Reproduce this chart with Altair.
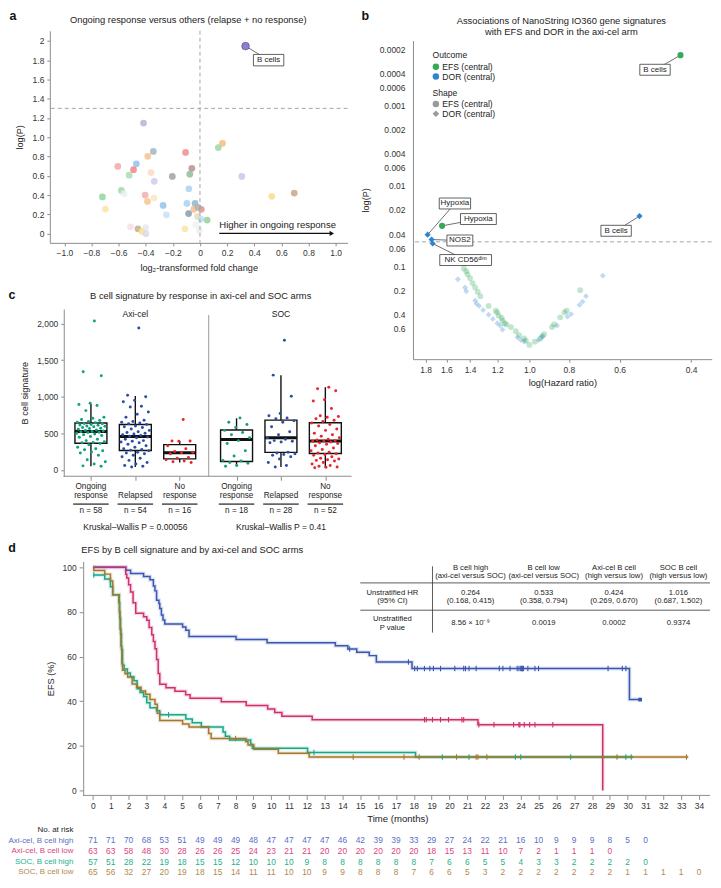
import altair as alt
import pandas as pd

FONT = "Liberation Sans"
INK = "#222222"
GRAY = "#8c8c8c"
TSZ = 9.4  # panel title size

# ---------------- Panel a : volcano ----------------
a_fold = [-0.416, -0.344, -0.385, -0.106, 0.166, 0.135, -0.606, -0.469, -0.490, -0.522,
          -0.361, -0.337, -0.204, -0.060, -0.075, 0.308, -0.082, -0.579, -0.560, -0.719,
          -0.404, -0.339, -0.387, -0.697, -0.272, -0.248, -0.096, -0.036, -0.046, 0.010,
          -0.014, -0.084, -0.019, 0.007, 0.053, -0.031, -0.005, -0.111, 0.529, 0.695,
          -0.512, -0.457, -0.401, -0.428, -0.399]
a_logp = [1.147, 0.853, 0.803, 0.843, 0.938, 0.894, 0.698, 0.725, 0.664, 0.607,
          0.634, 0.543, 0.594, 0.678, 0.617, 0.594, 0.465, 0.449, 0.415, 0.381,
          0.401, 0.371, 0.334, 0.256, 0.293, 0.196, 0.314, 0.314, 0.253, 0.253,
          0.273, 0.209, 0.179, 0.152, 0.142, 0.094, 0.034, 0.051, 0.388, 0.422,
          0.071, 0.051, 0.064, 0.024, 0.000]
a_fill = ["#b9aed6", "#9fb3bf", "#f6c08f", "#f08a8a", "#f6b978", "#9ad5a4", "#f5a3a3", "#8fc0ee", "#ef7f86", "#a8dcb0",
          "#fbd9c0", "#cfc7ec", "#9c9ca6", "#b48c8c", "#8fb89a", "#cbc3ee", "#a9d0f0", "#9fd8a8", "#e6f2ea", "#8fd49a",
          "#f4a9a9", "#fbe6c0", "#f7c28a", "#fbe2a0", "#8cc2ee", "#c5e0f6", "#a6cff2", "#8fb2cc", "#f6b98a", "#e08c8c",
          "#b0b0b0", "#7f9ab0", "#e8dcb5", "#b8dcf6", "#8fcf98", "#e8f4f0", "#eeeeee", "#fbe3a6", "#fbd98a", "#c9a27c",
          "#f8dde6", "#bfa98c", "#e4e8ef", "#fbe08a", "#dcd6ee"]
a_hl_name = ["B cells"]
a_hl_fold = [0.336]
a_hl_logp = [1.946]
a_lab_fold = [0.506]
a_lab_logp = [1.80]

# ---------------- Panel b : HR vs P ----------------
b_efs_hr = [1.45, 1.43, 1.42, 1.40, 1.38, 1.36, 1.34, 1.32, 1.26, 1.21, 1.20, 1.19, 1.17, 1.165, 1.15, 1.14,
            1.11, 1.08, 1.06, 1.03, 1.02, 1.00, 0.97, 0.94, 0.93, 0.92, 0.88, 0.87, 0.84, 0.82, 0.81, 0.75]
b_efs_p = [0.107, 0.116, 0.127, 0.142, 0.163, 0.185, 0.21, 0.237, 0.314, 0.36, 0.378, 0.415, 0.443, 0.478, 0.514, 0.533,
           0.575, 0.649, 0.726, 0.796, 0.851, 0.96, 0.875, 0.796, 0.746, 0.706, 0.575, 0.533, 0.435, 0.378, 0.36, 0.20]
b_dor_hr = [1.50, 1.44, 1.43, 1.36, 1.35, 1.33, 1.30, 1.26, 1.23, 1.20, 1.18, 1.165, 1.07, 1.05, 1.03, 0.95,
            0.93, 0.855, 0.806, 0.79, 0.753, 0.74, 0.726, 0.66]
b_dor_p = [0.146, 0.185, 0.206, 0.268, 0.294, 0.314, 0.354, 0.404, 0.456, 0.514, 0.55, 0.62, 0.775, 0.836, 0.87, 0.836,
           0.76, 0.55, 0.427, 0.396, 0.305, 0.278, 0.237, 0.132]
b_hl_name = ["B cells", "B cells", "Hypoxia", "Hypoxia", "NOS2", "NK CD56ᵈⁱᵐ"]
b_hl_outcome = ["EFS", "DOR", "EFS", "DOR", "DOR", "DOR"]
b_hl_hr = [0.425, 0.536, 1.64, 1.78, 1.74, 1.73]
b_hl_p = [0.000237, 0.0239, 0.0316, 0.0407, 0.0468, 0.0524]
b_lab_hr = [0.491, 0.612, 1.335, 1.525, 1.483, 1.435]
b_lab_p = [0.00036, 0.0364, 0.026, 0.01665, 0.0481, 0.0842]
b_box_w = [30.5, 30.5, 36, 31.5, 26, 52]
b_outcomes = ["EFS", "DOR"]
b_out_col = ["#36a85a", "#2e84cf"]
b_out_shape = ["circle", "diamond"]

# ---------------- Panel c : box plots ----------------
c_pos = [0, 1, 2, 3.28, 4.28, 5.28]
c_resp_col = ["#13a07c", "#2c4ea3", "#e8262b", "#13a07c", "#2c4ea3", "#e8262b"]
c_ax_ongoing = [2035, 1340, 1285, 910, 895, 880, 810, 720, 705, 690, 675, 660, 650, 645, 635, 630, 620, 615, 610, 600,
                595, 590, 580, 570, 565, 555, 545, 540, 530, 525, 520, 515, 510, 500, 490, 480, 470, 455, 445, 420,
                400, 385, 375, 370, 360, 345, 310, 290, 275, 260, 245, 230, 200, 140, 110, 80, 55, 50]
c_ax_relapsed = [1940, 1020, 1000, 950, 930, 870, 860, 790, 760, 720, 680, 660, 650, 640, 630, 620, 600, 590, 580, 560,
                 540, 520, 510, 500, 490, 480, 470, 460, 450, 440, 420, 400, 390, 380, 370, 350, 330, 310, 290, 280,
                 270, 260, 240, 230, 220, 200, 180, 160, 130, 100, 80, 60, 50, 40]
c_ax_noresp = [690, 395, 395, 390, 330, 290, 250, 240, 235, 220, 170, 160, 140, 120, 110, 100]
c_soc_ongoing = [710, 650, 620, 580, 540, 510, 480, 440, 400, 360, 260, 190, 130, 120, 100, 90, 60, 50]
c_soc_relapsed = [1770, 1295, 1005, 770, 740, 710, 700, 670, 650, 590, 520, 480, 440, 420, 400, 390, 380, 370, 240, 230,
                  220, 210, 200, 180, 150, 100, 60, 40]
c_soc_noresp = [1130, 1110, 1080, 960, 940, 840, 740, 730, 720, 700, 680, 660, 640, 620, 600, 560, 540, 500, 480, 460,
                440, 420, 410, 400, 395, 390, 380, 370, 360, 350, 330, 300, 280, 260, 240, 230, 220, 210, 200, 180,
                160, 150, 140, 130, 120, 100, 80, 60, 50, 40, 35, 30]
c_q1 = [365, 265, 150, 115, 240, 225]
c_med = [525, 455, 235, 415, 440, 395]
c_q3 = [640, 620, 345, 545, 680, 645]
c_lo = [50, 40, 100, 50, 40, 30]
c_hi = [900, 1010, 390, 705, 1295, 1130]
c_line1 = ["Ongoing", "", "No", "Ongoing", "", "No"]
c_line2 = ["response", "Relapsed", "response", "response", "Relapsed", "response"]
c_n = ["n = 58", "n = 54", "n = 16", "n = 18", "n = 28", "n = 52"]
c_arms = ["Axi-cel", "SOC"]
c_arm_pos = [1, 4.28]
c_kw = ["Kruskal–Wallis P = 0.00056", "Kruskal–Wallis P = 0.41"]

# ---------------- Panel d : Kaplan-Meier ----------------
d_names = ["Axi-cel, B cell high", "Axi-cel, B cell low", "SOC, B cell high", "SOC, B cell low"]
d_line_col = ["#3b55b3", "#d0306e", "#17a78a", "#a8782a"]
d_text_col = ["#5a6fc4", "#d9457f", "#26b08e", "#b08a4e"]
km_t = [
    [0, 1.84, 2.11, 2.84, 3.2, 3.39, 3.48, 3.57, 3.7, 3.75, 3.84, 3.93, 4.03, 5.03, 5.21, 5.39, 8.03, 9.77,
     13.6, 14.3, 14.8, 15.5, 15.9, 17.9, 30.1, 30.7],
    [0, 1.84, 1.9, 2.0, 2.11, 2.25, 2.4, 2.84, 3.02, 3.15, 3.3, 3.39, 3.48, 3.57, 3.66, 3.75, 4.1, 4.6, 5.2,
     5.45, 7.2, 8.6, 9.8, 10.2, 10.6, 12.3, 21.6, 28.6],
    [0, 0.66, 0.98, 1.11, 1.45, 1.5, 1.55, 1.6, 1.66, 1.75, 1.93, 2.1, 2.3, 2.48, 2.65, 2.84, 3.02, 3.2, 3.57,
     3.75, 5.21, 5.57, 6.08, 7.3, 7.43, 7.67, 8.85, 8.94, 12.04, 18.1, 30.3],
    [0, 0.05, 0.66, 0.98, 1.11, 1.48, 1.52, 1.57, 1.62, 1.66, 1.8, 1.95, 2.2, 2.45, 2.7, 2.95, 3.2, 3.48, 3.61,
     3.75, 5.03, 5.39, 6.49, 6.63, 8.58, 8.7, 9.03, 10.4, 12.13, 33.4],
]
km_s = [
    [100, 98.6, 97.2, 95.8, 94.4, 91.6, 89.4, 85.2, 83.7, 81.5, 78.6, 76.4, 74.6, 73.2, 71.8, 69.0, 67.6, 66.2,
     64.8, 63.4, 61.9, 60.4, 57.5, 54.6, 40.7, 40.7],
    [100, 96.8, 95.2, 92.1, 88.9, 84.1, 79.4, 77.8, 76.2, 73.0, 69.8, 66.7, 63.5, 58.7, 52.4, 47.6, 46.0, 44.4,
     42.9, 41.3, 39.7, 38.1, 36.5, 34.9, 33.3, 31.7, 29.4, 0],
    [96.5, 94.7, 91.2, 87.7, 84.2, 77.2, 70.2, 63.2, 56.1, 54.4, 52.6, 50.9, 49.1, 45.6, 43.9, 42.1, 39.3, 37.1,
     35.7, 33.9, 32.0, 30.3, 28.4, 26.2, 24.3, 22.6, 20.7, 18.9, 17.0, 15.0, 15.0],
    [100, 98.5, 96.9, 93.8, 87.7, 80.0, 72.3, 64.6, 56.9, 53.8, 52.3, 50.8, 47.7, 46.2, 44.6, 43.1, 40.8, 38.6,
     34.6, 31.3, 29.8, 28.4, 25.5, 23.3, 21.8, 20.4, 18.5, 16.7, 15.0, 15.0],
]
km_censor = [
    [14.4, 17.7, 18.05, 18.2, 18.6, 18.9, 19.1, 19.5, 20.3, 20.8, 20.9, 21.1, 21.5, 22.8, 23.0, 23.4, 23.8,
     23.9, 24.0, 24.05, 24.1, 24.15, 24.4, 24.8, 25.0, 28.9, 29.7, 29.9],
    [18.6, 18.7, 19.05, 19.5, 19.95, 20.7, 20.8, 21.65, 22.5, 23.6, 23.9, 23.95, 24.2, 24.5, 24.8, 25.8],
    [0.05, 4.24, 12.4, 19.6, 21.1, 23.7, 24.0, 26.8, 29.9, 30.2],
    [8.0, 14.6, 17.45, 18.3, 20.4, 21.5, 21.6, 22.1, 29.4, 33.3],
]
km_end_t = [30.7]
km_end_s = [40.7]
risk = [
    [71, 71, 70, 68, 53, 51, 49, 49, 49, 48, 47, 47, 47, 47, 46, 42, 39, 39, 33, 29, 27, 24, 22, 21, 16, 10, 9, 9, 9, 8, 5, 0],
    [63, 63, 58, 48, 30, 28, 26, 26, 25, 24, 23, 21, 21, 20, 20, 20, 20, 20, 20, 18, 15, 13, 11, 10, 7, 2, 1, 1, 1, 0],
    [57, 51, 28, 22, 19, 18, 15, 15, 12, 10, 10, 10, 9, 8, 8, 8, 8, 8, 8, 7, 6, 6, 5, 5, 4, 3, 3, 2, 2, 2, 2, 0],
    [65, 56, 32, 27, 20, 19, 18, 15, 14, 11, 11, 10, 10, 9, 9, 8, 8, 8, 7, 6, 6, 5, 3, 2, 2, 2, 2, 2, 2, 2, 1, 1, 1, 1, 0],
]
tab_cols = [("B cell high", "(axi-cel versus SOC)"), ("B cell low", "(axi-cel versus SOC)"),
            ("Axi-cel B cell", "(high versus low)"), ("SOC B cell", "(high versus low)")]
tab_rows = [("Unstratified HR", "(95% CI)"), ("Unstratified", "P value")]
tab_hr = [("0.264", "(0.168, 0.415)"), ("0.533", "(0.358, 0.794)"), ("0.424", "(0.269, 0.670)"), ("1.016", "(0.687, 1.502)")]
tab_p = ["8.56 × 10⁻⁹", "0.0019", "0.0002", "0.9374"]


# ---------------- helpers ----------------
DUMMY = pd.DataFrame({"z": [0]})


def tl(text, px, py, size=9.0, weight="normal", align="center", color=INK, baseline="middle"):
    return alt.Chart(pd.DataFrame({"t": [text]})).mark_text(
        font=FONT, fontSize=size, fontWeight=weight, align=align, baseline=baseline, color=color
    ).encode(x=alt.value(px), y=alt.value(py), text="t:N")


def glyph(px, py, shape, color, size=42):
    return alt.Chart(DUMMY).mark_point(filled=True, shape=shape, color=color, size=size, opacity=1).encode(
        x=alt.value(px), y=alt.value(py))


def axis(**kw):
    base = dict(labelFont=FONT, titleFont=FONT, labelFontSize=8.5, titleFontSize=9.2, labelColor="#333333",
                titleColor=INK, domainColor=GRAY, tickColor=GRAY, grid=False, titleFontWeight="normal",
                tickSize=3, labelPadding=3)
    base.update(kw)
    return alt.Axis(**base)


def box_path(w, h):
    r = h / w
    return f"M-1,-{r:.4f}L1,-{r:.4f}L1,{r:.4f}L-1,{r:.4f}Z"


def enc_factory(scale, ax):
    def f(field, ch):
        if ch == "x":
            return alt.X(field, scale=scale, axis=ax)
        return alt.Y(field, scale=scale, axis=ax)
    return f


# ================= Panel A =================
WA, HA = 299, 213
sxA = alt.Scale(domain=[-1.107, 1.088], nice=False, zero=False)
syA = alt.Scale(domain=[-0.095, 2.105], nice=False, zero=False)
ax_ax = axis(values=[-1.0, -0.8, -0.6, -0.4, -0.2, 0, 0.2, 0.4, 0.6, 0.8, 1.0],
             labelExpr="datum.value == 0 ? '0' : format(datum.value, '.1f')",
             title="log₂-transformed fold change", titlePadding=6)
ax_ay = axis(values=[0, 0.2, 0.4, 0.6, 0.8, 1.0, 1.2, 1.4, 1.6, 1.8, 2.0],
             labelExpr="datum.value == 0 ? '0' : (datum.value == 2 ? '2' : format(datum.value, '.1f'))",
             title="log(P)", titlePadding=8)
XA = enc_factory(sxA, ax_ax)
YA = enc_factory(syA, ax_ay)

dfA = pd.DataFrame({"fc": a_fold, "lp": a_logp, "fill": a_fill})
a_pts = alt.Chart(dfA).mark_circle(size=46, opacity=0.82).encode(
    x=XA("fc:Q", "x"), y=YA("lp:Q", "y"), color=alt.Color("fill:N", scale=None))
a_v = alt.Chart(pd.DataFrame({"fc": [0.0]})).mark_rule(color="#9a9a9a", strokeDash=[4, 3], strokeWidth=0.9).encode(
    x=XA("fc:Q", "x"))
a_h = alt.Chart(pd.DataFrame({"lp": [1.3]})).mark_rule(color="#9a9a9a", strokeDash=[4, 3], strokeWidth=0.9).encode(
    y=YA("lp:Q", "y"))
dfAh = pd.DataFrame({"fc": a_hl_fold, "lp": a_hl_logp, "lx": a_lab_fold, "ly": a_lab_logp, "name": a_hl_name,
                     "shp": [box_path(30.5, 11.5)], "sz": [30.5 ** 2]})
a_lead = alt.Chart(dfAh).mark_rule(color="#333333", strokeWidth=0.7).encode(
    x=XA("fc:Q", "x"), y=YA("lp:Q", "y"), x2="lx:Q", y2="ly:Q")
a_hpt = alt.Chart(dfAh).mark_circle(size=60, opacity=1, color="#8b7fd1", stroke="#4d428f", strokeWidth=0.6).encode(
    x=XA("fc:Q", "x"), y=YA("lp:Q", "y"))
a_box = alt.Chart(dfAh).mark_point(filled=True, fill="white", stroke="#3a3a3a", strokeWidth=0.8, opacity=1).encode(
    x=XA("lx:Q", "x"), y=YA("ly:Q", "y"),
    shape=alt.Shape("shp:N", scale=None), size=alt.Size("sz:Q", scale=None))
a_lab = alt.Chart(dfAh).mark_text(font=FONT, fontSize=8, color=INK).encode(
    x=XA("lx:Q", "x"), y=YA("ly:Q", "y"), text="name:N")
dfArr = pd.DataFrame({"x1": [0.142], "x2": [0.972], "y": [0.003], "ty": [0.092], "t": ["Higher in ongoing response"]})
a_arr = alt.Chart(dfArr).mark_rule(color="#111111", strokeWidth=1.3).encode(
    x=XA("x1:Q", "x"), x2="x2:Q", y=YA("y:Q", "y"))
a_head = alt.Chart(dfArr).mark_point(shape="triangle-right", filled=True, color="#111111", size=26, opacity=1).encode(
    x=XA("x2:Q", "x"), y=YA("y:Q", "y"))
a_atxt = alt.Chart(dfArr).mark_text(font=FONT, fontSize=9.6, align="left", color=INK).encode(
    x=XA("x1:Q", "x"), y=YA("ty:Q", "y"), text="t:N")
A = alt.layer(
    a_pts, a_v, a_h, a_lead, a_hpt, a_box, a_lab, a_arr, a_head, a_atxt,
    tl("Ongoing response versus others (relapse + no response)", 139, -10.8, size=TSZ),
    tl("a", -37, -14.7, size=12.5, weight="bold", color="#111111"),
).properties(width=WA, height=HA)

# ================= Panel B =================
WB, HB = 300, 320
sxB = alt.Scale(type="log", domain=[0.3561, 1.934], reverse=True, nice=False, zero=False)
syB = alt.Scale(type="log", domain=[1.556e-4, 1.444], reverse=True, nice=False, zero=False)
ax_bx = axis(values=[0.4, 0.6, 0.8, 1.0, 1.2, 1.4, 1.6, 1.8], format=".1f", title="log(Hazard ratio)", titlePadding=5)
ax_by = axis(values=[0.0002, 0.0004, 0.0006, 0.001, 0.002, 0.004, 0.006, 0.01, 0.02, 0.04, 0.06, 0.1, 0.2, 0.4, 0.6],
             format="~g", title="log(P)", titlePadding=9, tickSize=0, labelPadding=8)
XB = enc_factory(sxB, ax_bx)
YB = enc_factory(syB, ax_by)

out_f = ["EFS"] * len(b_efs_hr) + ["DOR"] * len(b_dor_hr)
dfBf = pd.DataFrame({"hr": b_efs_hr + b_dor_hr, "p": b_efs_p + b_dor_p,
                     "col": [b_out_col[b_outcomes.index(o)] for o in out_f],
                     "shape": [b_out_shape[b_outcomes.index(o)] for o in out_f]})
b_faded = alt.Chart(dfBf).mark_point(filled=True, opacity=0.3, size=34).encode(
    x=XB("hr:Q", "x"), y=YB("p:Q", "y"), color=alt.Color("col:N", scale=None),
    shape=alt.Shape("shape:N", scale=None))
dfBh = pd.DataFrame({"hr": b_hl_hr, "p": b_hl_p,
                     "col": [b_out_col[b_outcomes.index(o)] for o in b_hl_outcome],
                     "shape": [b_out_shape[b_outcomes.index(o)] for o in b_hl_outcome],
                     "lx": b_lab_hr, "ly": b_lab_p, "name": b_hl_name,
                     "shp": [box_path(w, 11) for w in b_box_w], "sz": [w ** 2 for w in b_box_w]})
b_sig = alt.Chart(pd.DataFrame({"p": [0.05]})).mark_rule(color="#9a9a9a", strokeDash=[4, 3], strokeWidth=0.9).encode(
    y=YB("p:Q", "y"))
b_lead = alt.Chart(dfBh).mark_rule(color="#333333", strokeWidth=0.7).encode(
    x=XB("hr:Q", "x"), y=YB("p:Q", "y"), x2="lx:Q", y2="ly:Q")
b_hpt = alt.Chart(dfBh).mark_point(filled=True, opacity=1, size=38).encode(
    x=XB("hr:Q", "x"), y=YB("p:Q", "y"), color=alt.Color("col:N", scale=None),
    shape=alt.Shape("shape:N", scale=None))
b_box = alt.Chart(dfBh).mark_point(filled=True, fill="white", stroke="#3a3a3a", strokeWidth=0.8, opacity=1).encode(
    x=XB("lx:Q", "x"), y=YB("ly:Q", "y"),
    shape=alt.Shape("shp:N", scale=None), size=alt.Size("sz:Q", scale=None))
b_lab = alt.Chart(dfBh).mark_text(font=FONT, fontSize=8, color=INK).encode(
    x=XB("lx:Q", "x"), y=YB("ly:Q", "y"), text="name:N")
b_legend = [
    tl("Outcome", 19.6, 14.7, size=8.6, align="left"),
    glyph(23, 26.4, "circle", b_out_col[0]), tl("EFS (central)", 29.5, 26.4, size=8.6, align="left"),
    glyph(23, 36.2, "circle", b_out_col[1]), tl("DOR (central)", 29.5, 36.2, size=8.6, align="left"),
    tl("Shape", 19.6, 52.9, size=8.6, align="left"),
    glyph(23, 63.7, "circle", "#9a9a9a"), tl("EFS (central)", 29.5, 63.7, size=8.6, align="left"),
    glyph(23, 73.5, "diamond", "#9a9a9a"), tl("DOR (central)", 29.5, 73.5, size=8.6, align="left"),
]
B = alt.layer(
    b_faded, b_sig, b_lead, b_hpt, b_box, b_lab, *b_legend,
    tl("Associations of NanoString IO360 gene signatures", 149, -19.6, size=TSZ),
    tl("with EFS and DOR in the axi-cel arm", 149, -8.9, size=TSZ),
    tl("b", -48, -24.5, size=12.5, weight="bold", color="#111111"),
).properties(width=WB, height=HB)

spacer = alt.Chart(DUMMY).mark_point(opacity=0, size=1).encode(
    x=alt.value(0), y=alt.value(0)).properties(width=WB, height=1)

# ================= Panel C =================
WC, HC = 303, 168
CSZ = 8.2
sxC = alt.Scale(domain=[-0.926, 5.87], nice=False, zero=False)
syC = alt.Scale(domain=[-87, 2199], nice=False, zero=False)
ax_cx = axis(values=c_pos, labels=False, domain=False, tickSize=4, title="")
ax_cy = axis(values=[0, 500, 1000, 1500, 2000], format=",.0f", title="B cell signature", offset=-14, titlePadding=7)
XC = enc_factory(sxC, ax_cx)
YC = enc_factory(syC, ax_cy)
c_vals = [c_ax_ongoing, c_ax_relapsed, c_ax_noresp, c_soc_ongoing, c_soc_relapsed, c_soc_noresp]
rows = []
for gi, vals in enumerate(c_vals):
    for val in vals:
        rows.append({"g": gi, "v": c_pos[gi], "val": val, "col": c_resp_col[gi]})
dfCp = pd.DataFrame(rows)
dfCb = pd.DataFrame({"v": c_pos, "q1": c_q1, "med": c_med, "q3": c_q3, "lo": c_lo, "hi": c_hi})

c_wlo = alt.Chart(dfCb).mark_rule(color="#111111", strokeWidth=1.4).encode(
    x=XC("v:Q", "x"), y=YC("lo:Q", "y"), y2="q1:Q")
c_whi = alt.Chart(dfCb).mark_rule(color="#111111", strokeWidth=1.4).encode(
    x=XC("v:Q", "x"), y=YC("q3:Q", "y"), y2="hi:Q")
c_box = alt.Chart(dfCb).transform_calculate(xl="datum.v - 0.36", xr="datum.v + 0.36").mark_rect(
    fill="transparent", stroke="#111111", strokeWidth=1.4).encode(
    x=XC("xl:Q", "x"), x2="xr:Q", y=YC("q1:Q", "y"), y2="q3:Q")
c_pts = alt.Chart(dfCp).transform_window(idx="row_number()", groupby=["g"]).transform_calculate(
    xj="datum.v + ((datum.idx * 0.618034) % 1 - 0.5) * 0.66").mark_circle(size=9, opacity=1).encode(
    x=XC("xj:Q", "x"), y=YC("val:Q", "y"), color=alt.Color("col:N", scale=None))
c_med_l = alt.Chart(dfCb).transform_calculate(xl="datum.v - 0.36", xr="datum.v + 0.36").mark_rule(
    color="#111111", strokeWidth=3).encode(
    x=XC("xl:Q", "x"), x2="xr:Q", y=YC("med:Q", "y"))
c_div = alt.Chart(pd.DataFrame({"v": [2.653]})).mark_rule(color="#9a9a9a", strokeWidth=1).encode(
    x=XC("v:Q", "x"), y=alt.value(6), y2=alt.value(HC))
c_base = alt.Chart(pd.DataFrame({"x1": [-0.615], "x2": [5.87]})).mark_rule(color=GRAY, strokeWidth=1).encode(
    x=XC("x1:Q", "x"), x2="x2:Q", y=alt.value(HC))
dfCl = pd.DataFrame({"v": c_pos, "l1": c_line1, "l2": c_line2, "n": c_n})
c_l1 = alt.Chart(dfCl).mark_text(font=FONT, fontSize=CSZ, color=INK).encode(
    x=XC("v:Q", "x"), y=alt.value(178.9), text="l1:N")
c_l2 = alt.Chart(dfCl).mark_text(font=FONT, fontSize=CSZ, color=INK).encode(
    x=XC("v:Q", "x"), y=alt.value(187.5), text="l2:N")
c_ul = alt.Chart(dfCl).transform_calculate(xl="datum.v - 0.4", xr="datum.v + 0.4").mark_rule(
    color="#666666", strokeWidth=1.8).encode(
    x=XC("xl:Q", "x"), x2="xr:Q", y=alt.value(196))
c_nl = alt.Chart(dfCl).mark_text(font=FONT, fontSize=CSZ, color=INK).encode(
    x=XC("v:Q", "x"), y=alt.value(202.5), text="n:N")
dfCa = pd.DataFrame({"v": c_arm_pos, "arm": c_arms, "kw": c_kw})
c_arm = alt.Chart(dfCa).mark_text(font=FONT, fontSize=8.6, color=INK).encode(
    x=XC("v:Q", "x"), y=alt.value(4.8), text="arm:N")
c_kwt = alt.Chart(dfCa).mark_text(font=FONT, fontSize=8.6, color=INK).encode(
    x=XC("v:Q", "x"), y=alt.value(219.2), text="kw:N")
C = alt.layer(
    c_wlo, c_whi, c_box, c_med_l, c_pts, c_div, c_base, c_l1, c_l2, c_ul, c_nl, c_arm, c_kwt,
    tl("B cell signature by response in axi-cel and SOC arms", 151.5, -13.2, size=TSZ),
    tl("c", -38, -13.8, size=12.5, weight="bold", color="#111111"),
).properties(width=WC, height=HC)

# ================= Panel D =================
# plot origin shares x with panel a; y axis drawn further right
WD, HD = 663, 235
sxD = alt.Scale(domain=[-2.42, 34.62], nice=False, zero=False)
syD = alt.Scale(domain=[-2.2, 102.6], nice=False, zero=False)
ax_dx = axis(values=list(range(0, 35)), domain=False, tickSize=4, labelPadding=2, title="Time (months)",
             titleX=349, titleFontSize=9.6, titlePadding=4, labelFontSize=8.5)
ax_dy = axis(values=[0, 20, 40, 60, 80, 100], offset=-33.5, tickSize=4, labelPadding=3, title="EFS (%)",
             titlePadding=7)
XD = enc_factory(sxD, ax_dx)
YD = enc_factory(syD, ax_dy)
krows, crows = [], []
for gi in range(4):
    for i, (t, s) in enumerate(zip(km_t[gi], km_s[gi])):
        krows.append({"col": d_line_col[gi], "i": i, "t": t, "s": s})
    for t in km_censor[gi]:
        lvl = km_s[gi][max(j for j, tt in enumerate(km_t[gi]) if tt <= t)]
        crows.append({"col": d_line_col[gi], "t": t, "s": lvl})
dfK = pd.DataFrame(krows)
dfC = pd.DataFrame(crows)
d_halo = alt.Chart(dfK).mark_line(interpolate="step-after", strokeWidth=4, opacity=0.16).encode(
    x=XD("t:Q", "x"), y=YD("s:Q", "y"), color=alt.Color("col:N", scale=None), order="i:Q")
d_lines = alt.Chart(dfK).mark_line(interpolate="step-after", strokeWidth=1.5).encode(
    x=XD("t:Q", "x"), y=YD("s:Q", "y"), color=alt.Color("col:N", scale=None), order="i:Q")
d_cens = alt.Chart(dfC).mark_point(shape="M0,-1L0,1", size=30, strokeWidth=1.1, opacity=1, filled=False).encode(
    x=XD("t:Q", "x"), y=YD("s:Q", "y"), color=alt.Color("col:N", scale=None))
d_end = alt.Chart(pd.DataFrame({"t": km_end_t, "s": km_end_s})).mark_square(size=14, color=d_line_col[0], opacity=1).encode(
    x=XD("t:Q", "x"), y=YD("s:Q", "y"))
d_base = alt.Chart(pd.DataFrame({"x1": [-0.55], "x2": [34.62]})).mark_rule(color=GRAY, strokeWidth=1).encode(
    x=XD("x1:Q", "x"), x2="x2:Q", y=alt.value(HD))

LX = 23.7
RSZ = 8.0
risk_layers = [tl("No. at risk", LX, 269.5, size=RSZ, align="right", color=INK)]
risk_y = [280.3, 291.0, 301.6, 312.0]
for gi in range(4):
    dfr = pd.DataFrame({"t": list(range(len(risk[gi]))), "n": risk[gi]})
    risk_layers.append(alt.Chart(dfr).mark_text(font=FONT, fontSize=8.4, color=d_text_col[gi]).encode(
        x=XD("t:Q", "x"), y=alt.value(risk_y[gi]), text="n:Q"))
    risk_layers.append(tl(d_names[gi], LX, risk_y[gi], size=RSZ, align="right", color=d_text_col[gi]))

TBS = 7.7
tab_x = [422.5, 496, 566.6, 631.3]
tab_layers = []
for ci in range(4):
    tab_layers.append(tl(tab_cols[ci][0], tab_x[ci], 7.0, size=TBS))
    tab_layers.append(tl(tab_cols[ci][1], tab_x[ci], 15.0, size=TBS))
    tab_layers.append(tl(tab_hr[ci][0], tab_x[ci], 31.4, size=TBS))
    tab_layers.append(tl(tab_hr[ci][1], tab_x[ci], 39.4, size=TBS))
    tab_layers.append(tl(tab_p[ci], tab_x[ci], 62.0, size=TBS))
tab_layers += [
    tl(tab_rows[0][0], 344, 31.4, size=TBS), tl(tab_rows[0][1], 344, 39.4, size=TBS),
    tl(tab_rows[1][0], 344, 57.8, size=TBS), tl(tab_rows[1][1], 344, 66.4, size=TBS),
    alt.Chart(DUMMY).mark_rule(color="#333333", strokeWidth=0.8).encode(
        x=alt.value(311.8), x2=alt.value(663), y=alt.value(21.6)),
    alt.Chart(DUMMY).mark_rule(color="#333333", strokeWidth=0.8).encode(
        x=alt.value(311.8), x2=alt.value(663), y=alt.value(49.0)),
    alt.Chart(DUMMY).mark_rule(color="#333333", strokeWidth=0.8).encode(
        x=alt.value(384.3), y=alt.value(4.9), y2=alt.value(71.5)),
]

D = alt.layer(
    d_lines, d_halo, d_base, d_cens, d_end, *risk_layers, *tab_layers,
    tl("EFS by B cell signature and by axi-cel and SOC arms", 143, -11.8, size=TSZ),
    tl("d", -38, -13.7, size=12.5, weight="bold", color="#111111"),
).properties(width=WD, height=HD)

# ================= layout =================
left_col = alt.vconcat(A, C, spacing=66.4, bounds="flush")
right_col = alt.vconcat(spacer, B, spacing=8.8, bounds="flush")
top_row = alt.hconcat(left_col, right_col, spacing=8.7)
chart = alt.vconcat(top_row, D, spacing=8.9).properties(padding=0).configure(
    font=FONT).configure_view(strokeWidth=0)

chart.save("out.html", embed_options={"renderer": "svg", "actions": False})
